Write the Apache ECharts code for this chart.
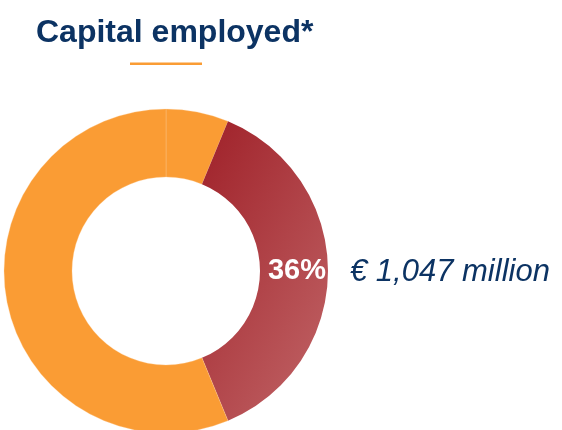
<!DOCTYPE html>
<html>
<head>
<meta charset="utf-8">
<script src="https://cdn.jsdelivr.net/npm/echarts@6/dist/echarts.min.js"></script>
<style>
  html, body { margin: 0; padding: 0; background: #fff; }
  #chart { width: 562px; height: 430px; }
</style>
</head>
<body>
<div id="chart"></div>
<script>
// slice shares as read from the ring (clockwise from 12 o'clock)
const sliceNames = ['other-a', 'segment', 'other-b'];
const sliceValues = [6.25, 37.5, 56.25];
const sliceLabels = ['', '36%', ''];
const titleText = 'Capital employed*';
const amountText = '€ 1,047 million';

const orange = '#fa9c34';
const navy = '#0c3363';
// diagonal shading, dark top-left -> light bottom-right
const redGrad = new echarts.graphic.LinearGradient(205, 125, 390, 227, [
  { offset: 0, color: '#a0222a' },
  { offset: 1, color: '#bc5b5e' },
], true);

const chart = echarts.init(document.getElementById('chart'));
chart.setOption({
  animation: false,
  graphic: [
    {
      type: 'text', left: 36, top: 17,
      style: { text: titleText, fill: navy, font: 'bold 32px "Liberation Sans", Arial, sans-serif' },
    },
    { type: 'rect', shape: { x: 130, y: 62.5, width: 72, height: 2.5 }, style: { fill: orange } },
    {
      type: 'text', x: 350, y: 272,
      style: {
        text: amountText, fill: navy, verticalAlign: 'middle', align: 'left',
        font: 'italic 31px "Liberation Sans", Arial, sans-serif',
      },
    },
  ],
  series: [{
    type: 'pie',
    center: [166, 271],
    radius: [94, 162],
    startAngle: 90,
    clockwise: true,
    silent: true,
    labelLine: { show: false },
    data: sliceNames.map((name, i) => ({
      name,
      value: sliceValues[i],
      itemStyle: i === 1
        ? { color: redGrad }
        : { color: orange, borderColor: 'rgba(255,214,170,0.5)', borderWidth: 0.6 },
      label: {
        show: sliceLabels[i] !== '',
        position: 'inside',
        formatter: sliceLabels[i],
        color: '#fff',
        fontSize: 29,
        fontWeight: 'bold',
        fontFamily: '"Liberation Sans", Arial, sans-serif',
      },
    })),
  }],
});
</script>
</body>
</html>
